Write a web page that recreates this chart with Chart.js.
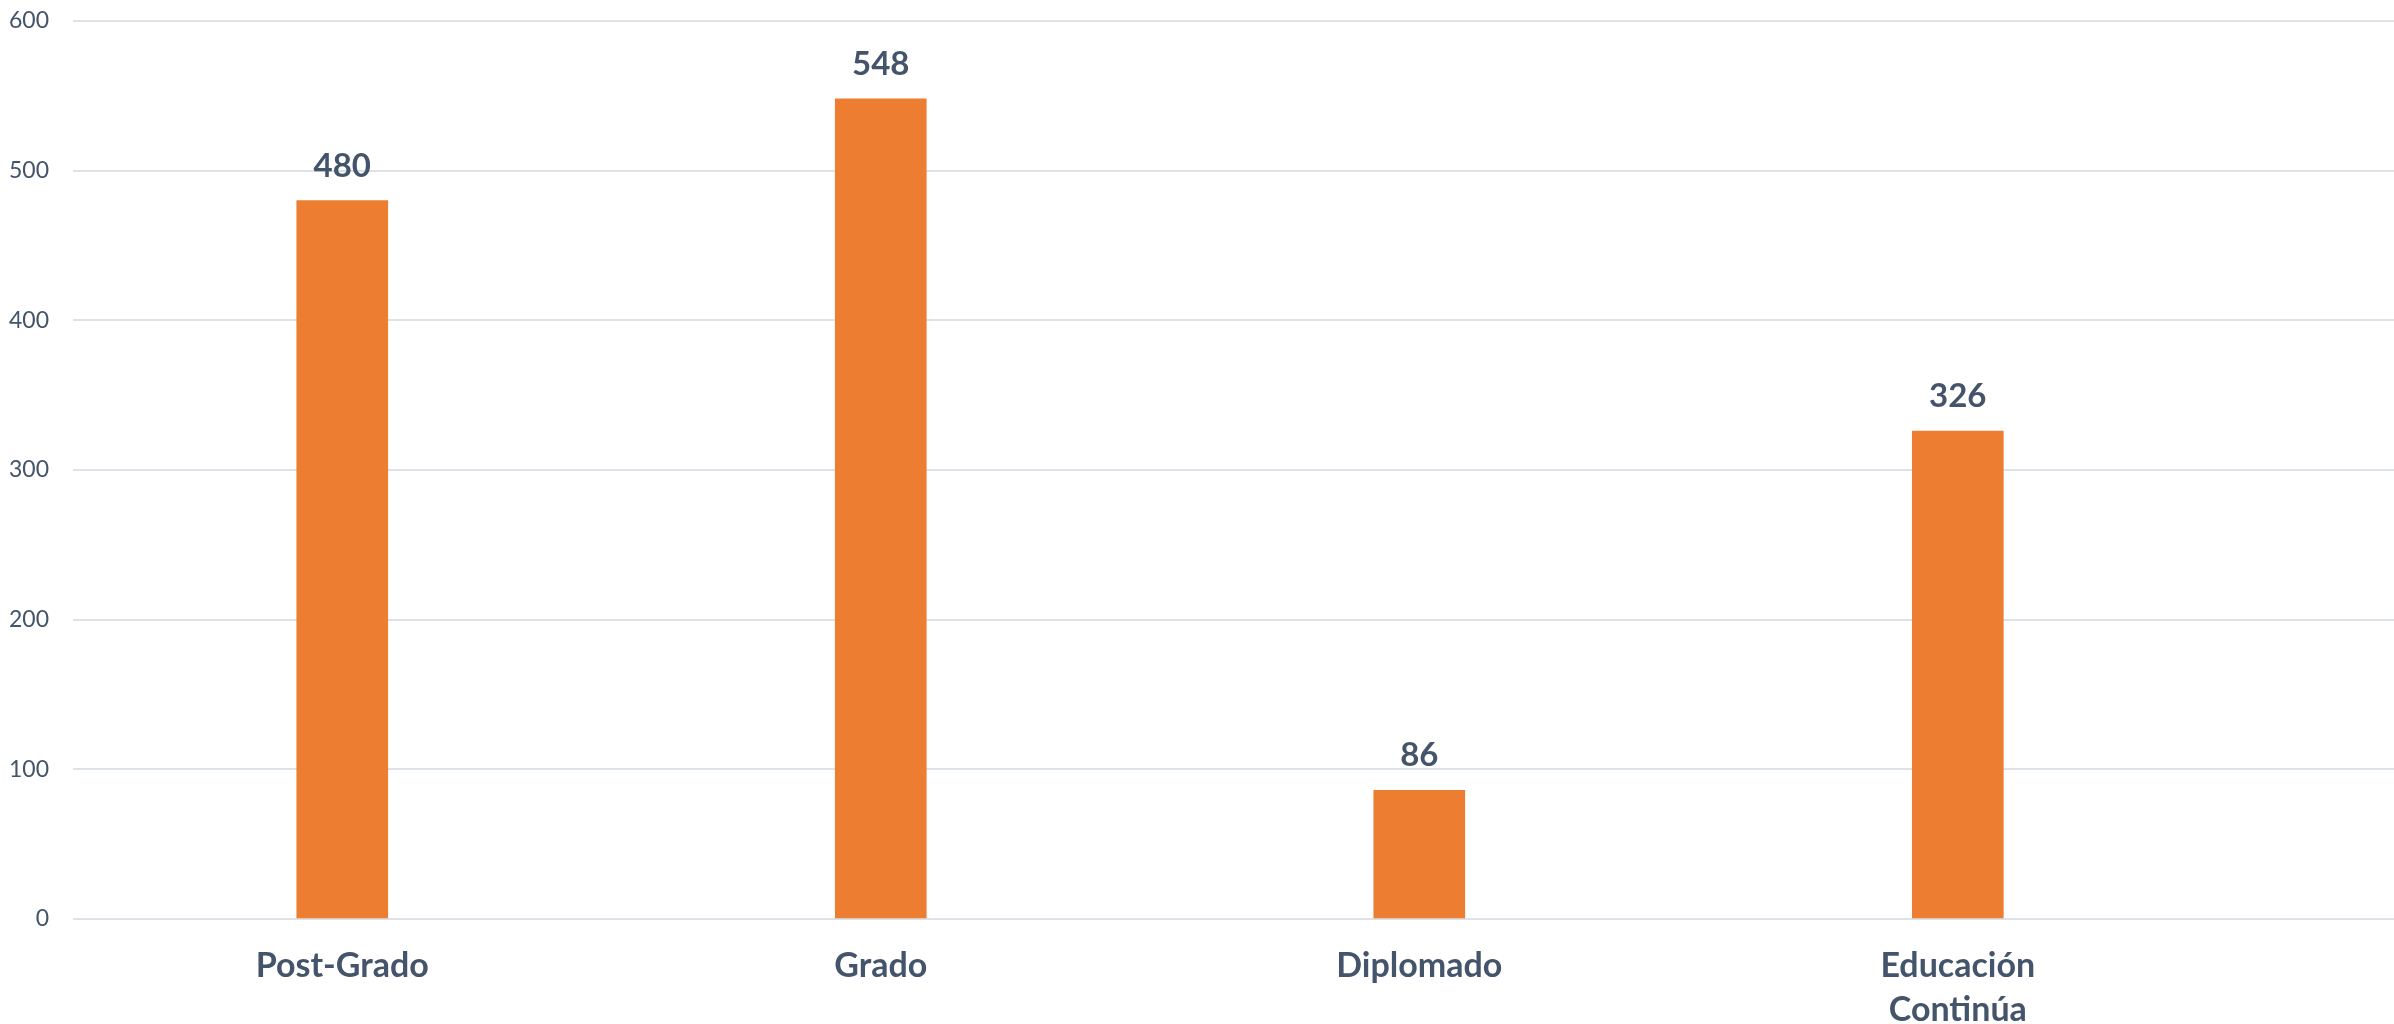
<!DOCTYPE html>
<html>
<head>
<meta charset="utf-8">
<script src="https://cdn.jsdelivr.net/npm/chart.js@4"></script>
<style>
  html, body { margin: 0; padding: 0; background: #ffffff; overflow: hidden; }
  #wrap { width: 2394px; height: 1024px; position: relative; }
</style>
</head>
<body>
<div id="wrap"><canvas id="c" width="2394" height="1024"></canvas></div>
<script>
const categories = ['Post-Grado', 'Grado', 'Diplomado', ['Educación', 'Continúa']];
const values = [480, 548, 86, 326];
const yTicks = [0, 100, 200, 300, 400, 500, 600];

const TEXT = '#44546A';
const FONT = 'Lato, "Open Sans", sans-serif';

const dataLabels = {
  id: 'dataLabels',
  afterDatasetsDraw(chart) {
    const ctx = chart.ctx;
    const meta = chart.getDatasetMeta(0);
    ctx.save();
    ctx.font = 'bold 33px ' + FONT;
    ctx.fillStyle = TEXT;
    ctx.textAlign = 'center';
    ctx.textBaseline = 'alphabetic';
    meta.data.forEach((el, i) => {
      ctx.fillText(String(values[i]), el.x, el.y - 24);
    });
    ctx.restore();
  }
};

new Chart(document.getElementById('c'), {
  type: 'bar',
  data: {
    datasets: [{
      data: values.map((v, i) => ({ x: i, y: v })),
      backgroundColor: '#ED7D31',
      borderWidth: 0,
      barThickness: 91
    }]
  },
  options: {
    responsive: false,
    animation: false,
    layout: { padding: { top: 21, right: 0, left: 0, bottom: 0 } },
    plugins: { legend: { display: false }, tooltip: { enabled: false } },
    scales: {
      x: {
        type: 'linear',
        offset: false,
        min: -0.5,
        max: 3.81,
        grid: { display: false, drawTicks: false },
        border: { display: false },
        afterBuildTicks: s => { s.ticks = categories.map((c, i) => ({ value: i })); },
        afterFit: s => { s.height = 105; s.paddingLeft = 0; s.paddingRight = 0; },
        ticks: {
          autoSkip: false,
          maxRotation: 0,
          padding: 25,
          color: TEXT,
          font: { family: FONT, size: 34, weight: 'bold', lineHeight: 1.3 },
          callback: v => categories[v]
        }
      },
      y: {
        min: 0,
        max: 600,
        afterBuildTicks: s => { s.ticks = yTicks.map(v => ({ value: v })); },
        afterFit: s => { s.width = 73; s.paddingTop = 0; s.paddingBottom = 0; },
        grid: { color: '#DDE1E8', lineWidth: 2, drawTicks: false },
        border: { display: false },
        ticks: {
          padding: 24,
          color: TEXT,
          font: { family: FONT, size: 23 }
        }
      }
    }
  },
  plugins: [dataLabels]
});
</script>
</body>
</html>
